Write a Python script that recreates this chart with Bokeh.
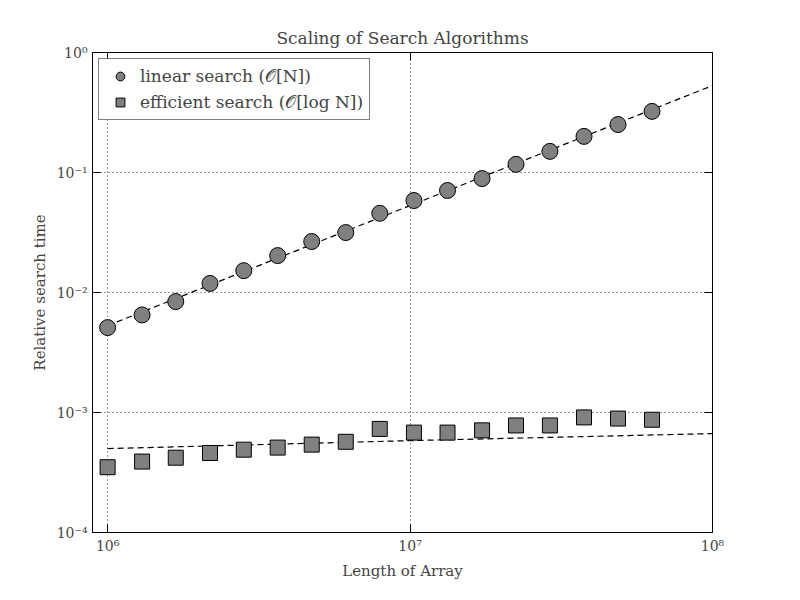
from bokeh.plotting import figure
from bokeh.models import LogAxis, Legend, LegendItem, Range1d, FixedTicker, CustomJSTickFormatter
from bokeh.embed import file_html
from bokeh.resources import INLINE

N = [1.0e6, 1.30e6, 1.68e6, 2.18e6, 2.82e6, 3.65e6, 4.73e6, 6.13e6, 7.94e6,
     1.03e7, 1.33e7, 1.73e7, 2.24e7, 2.90e7, 3.76e7, 4.87e7, 6.31e7]
t_linear = [0.0051, 0.0065, 0.0084, 0.0119, 0.0152, 0.0203, 0.0266, 0.0316, 0.0457,
            0.0584, 0.0708, 0.089, 0.117, 0.150, 0.200, 0.251, 0.323]
t_eff = [3.5e-4, 3.9e-4, 4.2e-4, 4.6e-4, 4.9e-4, 5.1e-4, 5.4e-4, 5.7e-4, 7.3e-4,
         6.8e-4, 6.8e-4, 7.1e-4, 7.8e-4, 7.8e-4, 9.1e-4, 8.9e-4, 8.7e-4]
N_fit = [1e6, 1e7, 1e8]
fit_linear = [0.0053, 0.053, 0.53]
fit_eff = [5.0e-4, 5.83e-4, 6.67e-4]

SERIF = "DejaVu Serif"
sup_fmt = CustomJSTickFormatter(code="""
const e = Math.round(Math.log10(tick));
const m = {'-':'⁻','0':'⁰','1':'¹','2':'²','3':'³','4':'⁴','5':'⁵','6':'⁶','7':'⁷','8':'⁸','9':'⁹'};
return '10' + String(e).split('').map(c => m[c]).join('');
""")
blank_fmt = CustomJSTickFormatter(code="return '';")

p = figure(width=784, height=584, x_axis_type="log", y_axis_type="log",
           x_range=Range1d(10**5.95, 1e8), y_range=Range1d(1e-4, 1),
           output_backend="svg", toolbar_location=None,
           min_border_left=92, min_border_right=72, min_border_top=52, min_border_bottom=52,
           title="Scaling of Search Algorithms")
p.title.align = "center"
p.title.text_font = SERIF
p.title.text_font_size = "17px"
p.title.text_font_style = "normal"
p.outline_line_color = "black"

p.line(N_fit, fit_linear, line_color="black", line_dash="6 4", line_width=1.2)
p.line(N_fit, fit_eff, line_color="black", line_dash="6 4", line_width=1.2)
r1 = p.scatter(N, t_linear, marker="circle", size=16, fill_color="#808080", line_color="black")
r2 = p.scatter(N, t_eff, marker="square", size=15, fill_color="#808080", line_color="black")

leg = Legend(items=[LegendItem(label="linear search (𝒪[N])", renderers=[r1]),
                    LegendItem(label="efficient search (𝒪[log N])", renderers=[r2])],
             location="top_left", label_text_font=SERIF, label_text_font_size="17px",
             border_line_color="black", border_line_width=1.2, margin=6, padding=6,
             spacing=4, glyph_width=30, glyph_height=22)
p.add_layout(leg)

p.xaxis.ticker = FixedTicker(ticks=[1e6, 1e7, 1e8])
p.yaxis.ticker = FixedTicker(ticks=[1e-4, 1e-3, 1e-2, 1e-1, 1])
p.xaxis.formatter = sup_fmt
p.yaxis.formatter = sup_fmt
p.xaxis.axis_label = "Length of Array"
p.yaxis.axis_label = "Relative search time"
for ax in [p.xaxis[0], p.yaxis[0]]:
    ax.axis_label_text_font = SERIF
    ax.axis_label_text_font_style = "normal"
    ax.axis_label_text_font_size = "15px"
    ax.major_label_text_font = SERIF
    ax.major_label_text_font_size = "14px"
    ax.major_tick_in = 8
    ax.major_tick_out = 0
    ax.minor_tick_in = 4
    ax.minor_tick_out = 0
    ax.axis_line_color = None

for loc in ["above", "right"]:
    a = LogAxis(formatter=blank_fmt, major_tick_in=8, major_tick_out=0,
                minor_tick_in=4, minor_tick_out=0, axis_line_color=None)
    a.ticker = FixedTicker(ticks=[1e6, 1e7, 1e8] if loc == "above" else [1e-4, 1e-3, 1e-2, 1e-1, 1])
    p.add_layout(a, loc)

p.grid.grid_line_color = "black"
p.grid.grid_line_dash = "1 3"
p.grid.grid_line_alpha = 0.8

open("out.html", "w").write(file_html(p, INLINE))
